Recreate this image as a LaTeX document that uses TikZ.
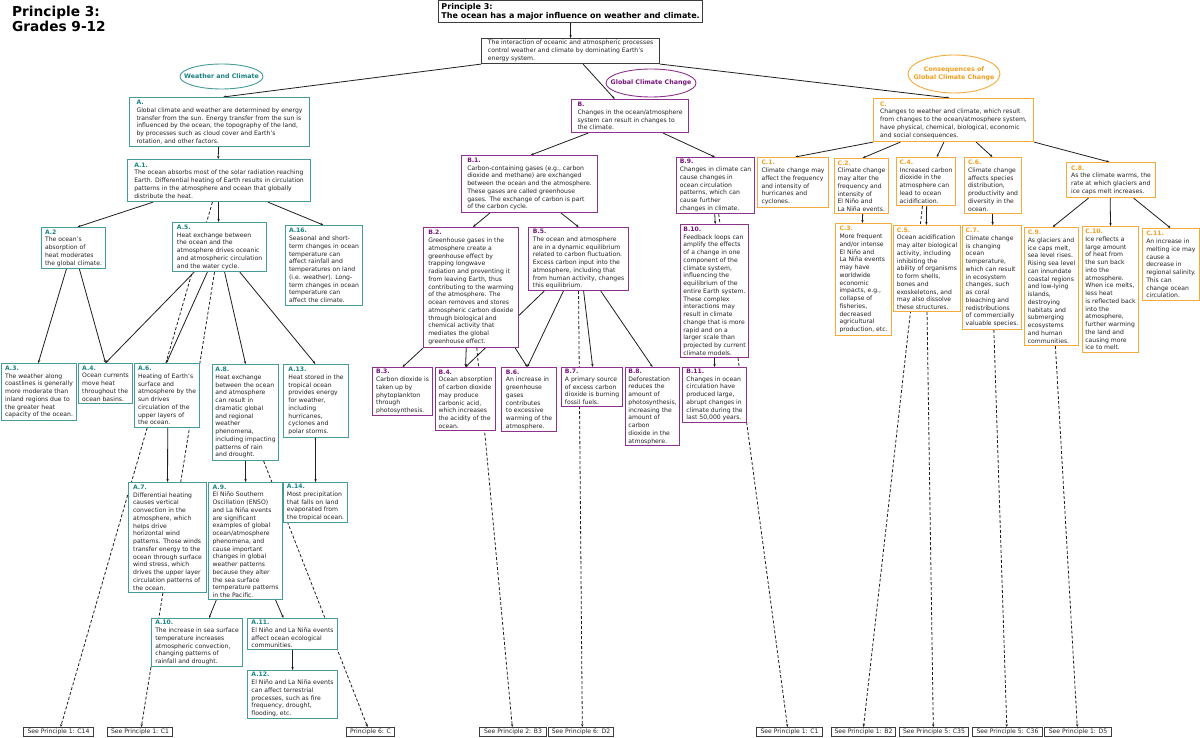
\documentclass[tikz,border=0pt]{standalone}
\usepackage{fontspec}
\setmainfont{DejaVu Sans}
\usetikzlibrary{arrows.meta,calc,shapes.geometric,backgrounds}
\definecolor{tealB}{RGB}{70,155,155}
\definecolor{tealL}{RGB}{25,130,130}
\definecolor{purB}{RGB}{140,50,140}
\definecolor{purL}{RGB}{120,20,125}
\definecolor{orB}{RGB}{245,170,60}
\definecolor{orL}{RGB}{242,158,30}
\definecolor{grayB}{RGB}{60,60,60}
\definecolor{txtc}{RGB}{35,35,35}
\definecolor{lineC}{RGB}{30,30,30}
\newcommand{\lT}[1]{\textcolor{tealL}{\bfseries #1}}
\newcommand{\lP}[1]{\textcolor{purL}{\bfseries #1}}
\newcommand{\lO}[1]{\textcolor{orL}{\bfseries #1}}
\newcommand{\linkS}[4]{\draw[arr] ($(#1.south west)!#2!(#1.south east)$) -- ($(#3.north west)!#4!(#3.north east)$);}
\newcommand{\linkD}[4]{\draw[darr] ($(#1.south west)!#2!(#1.south east)$) -- ($(#3.north west)!#4!(#3.north east)$);}
\tikzset{
 boxbase/.style={draw, fill=white, anchor=north west, align=left, inner xsep=1.4pt, inner ysep=1pt, font=\fontsize{6.1}{7.75}\selectfont, text=txtc, line width=1.1pt},
 tb/.style={boxbase, draw=tealB},
 pb/.style={boxbase, draw=purB},
 ob/.style={boxbase, draw=orB},
 gb/.style={boxbase, draw=grayB, line width=1.1pt},
 sb/.style={boxbase, draw=grayB, line width=1pt, inner ysep=0.6pt, inner xsep=1pt, minimum height=9pt, font=\fontsize{6.1}{7}\selectfont},
 arr/.style={draw=lineC, line width=0.8pt, -{Stealth[length=3pt,width=2.4pt]}},
 darr/.style={arr, dash pattern=on 3pt off 2pt},
 ellb/.style={ellipse, fill=white, line width=0.9pt, inner sep=0pt},
 etext/.style={inner sep=0pt, align=center, font=\fontsize{6.3}{7.7}\selectfont\bfseries},
}
\begin{document}
\begin{tikzpicture}[x=1pt,y=-1pt]
\useasboundingbox (0,0) rectangle (1200,738);

% title
\node[anchor=north west, inner sep=0pt, align=left, font=\fontsize{13.7}{15.3}\selectfont\bfseries, text=black] (title) at (12,6) {Principle 3:\\Grades 9-12};

\node[gb, minimum width=264pt, minimum height=22pt, font=\fontsize{8}{9}\selectfont\bfseries, text=black, line width=1.2pt] (P3) at (438,0) {Principle 3:\\The ocean has a major influence on weather and climate.};
\node[gb, minimum width=178pt, minimum height=25pt] (I) at (481,38) {The interaction of oceanic and atmospheric processes\\control weather and climate by dominating Earth's\\energy system.};

% ellipses
\node[ellb, draw=tealB, minimum width=83pt, minimum height=25pt] (WCe) at (221.5,76.5) {};
\node[etext, text=tealL] (WCt) at (WCe.center) {Weather and Climate};
\node[ellb, draw=purB, minimum width=90pt, minimum height=28pt] (GCe) at (651,83) {};
\node[etext, text=purL] (GCt) at (GCe.center) {Global Climate Change};
\node[ellb, draw=orB, minimum width=92pt, minimum height=38pt] (CGe) at (954,74) {};
\node[etext, text=orL] (CGt) at (CGe.center) {Consequences of\\Global Climate Change};

% ---------------- A ----------------
\node[tb, minimum width=180pt, minimum height=49pt] (A) at (129,97) {\lT{A.}\\Global climate and weather are determined by energy\\transfer from the sun. Energy transfer from the sun is\\influenced by the ocean, the topography of the land,\\by processes such as cloud cover and Earth's\\rotation, and other factors.};
\node[tb, minimum width=183pt, minimum height=42pt] (A1) at (127,159) {\lT{A.1.}\\The ocean absorbs most of the solar radiation reaching\\Earth. Differential heating of Earth results in circulation\\patterns in the atmosphere and ocean that globally\\distribute the heat.};
\node[tb, minimum width=64pt, minimum height=41pt] (A2) at (41,227) {\lT{A.2}\\The ocean's\\absorption of\\heat moderates\\the global climate.};
\node[tb, minimum width=94pt, minimum height=49pt] (A5) at (172,222) {\lT{A.5.}\\Heat exchange between\\the ocean and the\\atmosphere drives oceanic\\and atmospheric circulation\\and the water cycle.};
\node[tb, minimum width=77pt, minimum height=80pt] (A16) at (285,225) {\lT{A.16.}\\Seasonal and short-\\term changes in ocean\\temperature can\\affect rainfall and\\temperatures on land\\(i.e. weather). Long-\\term changes in ocean\\temperature can\\affect the climate.};
\node[tb, minimum width=75pt, minimum height=57pt] (A3) at (1,363) {\lT{A.3.}\\The weather along\\coastlines is generally\\more moderate than\\inland regions due to\\the greater heat\\capacity of the ocean.};
\node[tb, minimum width=54pt, minimum height=40pt] (A4) at (78,363) {\lT{A.4.}\\Ocean currents\\move heat\\throughout the\\ocean basins.};
\node[tb, minimum width=65pt, minimum height=64pt] (A6) at (134,363) {\lT{A.6.}\\Heating of Earth's\\surface and\\atmosphere by the\\sun drives\\circulation of the\\upper layers of\\the ocean.};
\node[tb, minimum width=66pt, minimum height=96pt] (A8) at (212,364) {\lT{A.8.}\\Heat exchange\\between the ocean\\and atmosphere\\can result in\\dramatic global\\and regional\\weather\\phenomena,\\including impacting\\patterns of rain\\and drought.};
\node[tb, minimum width=65pt, minimum height=73pt] (A13) at (283,364) {\lT{A.13.}\\Heat stored in the\\tropical ocean\\provides energy\\for weather,\\including\\hurricanes,\\cyclones and\\polar storms.};
\node[tb, minimum width=78pt, minimum height=110pt] (A7) at (128,482) {\lT{A.7.}\\Differential heating\\causes vertical\\convection in the\\atmosphere, which\\helps drive\\horizontal wind\\patterns. Those winds\\transfer energy to the\\ocean through surface\\wind stress, which\\drives the upper layer\\circulation patterns of\\the ocean.};
\node[tb, minimum width=74pt, minimum height=117pt] (A9) at (208,482) {\lT{A.9.}\\El Niño Southern\\Oscillation (ENSO)\\and La Niña events\\are significant\\examples of global\\ocean/atmosphere\\phenomena, and\\cause important\\changes in global\\weather patterns\\because they alter\\the sea surface\\temperature patterns\\in the Pacific.};
\node[tb, minimum width=64pt, minimum height=40pt] (A14) at (283,482) {\lT{A.14.}\\Most precipitation\\that falls on land\\evaporated from\\the tropical ocean.};
\node[tb, minimum width=91pt, minimum height=48pt] (A10) at (151,618) {\lT{A.10.}\\The increase in sea surface\\temperature increases\\atmospheric convection,\\changing patterns of\\rainfall and drought.};
\node[tb, minimum width=90pt, minimum height=31pt] (A11) at (247,618) {\lT{A.11.}\\El Niño and La Niña events\\affect ocean ecological\\communities.};
\node[tb, minimum width=90pt, minimum height=48pt] (A12) at (247,670) {\lT{A.12.}\\El Niño and La Niña events\\can affect terrestrial\\processes, such as fire\\frequency, drought,\\flooding, etc.};

% ---------------- B ----------------
\node[pb, minimum width=117pt, minimum height=33pt] (B) at (571,99) {\lP{B.}\\Changes in the ocean/atmosphere\\system can result in changes to\\the climate.};
\node[pb, minimum width=136pt, minimum height=57pt] (B1) at (461,155) {\lP{B.1.}\\Carbon-containing gases (e.g., carbon\\dioxide and methane) are exchanged\\between the ocean and the atmosphere.\\These gases are called greenhouse\\gases. The exchange of carbon is part\\of the carbon cycle.};
\node[pb, minimum width=78pt, minimum height=56pt] (B9) at (676,157) {\lP{B.9.}\\Changes in climate can\\cause changes in\\ocean circulation\\patterns, which can\\cause further\\changes in climate.};
\node[pb, minimum width=95pt, minimum height=120pt] (B2) at (423,227) {\lP{B.2.}\\Greenhouse gases in the\\atmosphere create a\\greenhouse effect by\\trapping longwave\\radiation and preventing it\\from leaving Earth, thus\\contributing to the warming\\of the atmosphere. The\\ocean removes and stores\\atmospheric carbon dioxide\\through biological and\\chemical activity that\\mediates the global\\greenhouse effect.};
\node[pb, minimum width=100pt, minimum height=63pt] (B5) at (528,227) {\lP{B.5.}\\The ocean and atmosphere\\are in a dynamic equilibrium\\related to carbon fluctuation.\\Excess carbon input into the\\atmosphere, including that\\from human activity, changes\\this equilibrium.};
\node[pb, minimum width=68pt, minimum height=133pt] (B10) at (680,224) {\lP{B.10.}\\Feedback loops can\\amplify the effects\\of a change in one\\component of the\\climate system,\\influencing the\\equilibrium of the\\entire Earth system.\\These complex\\interactions may\\result in climate\\change that is more\\rapid and on a\\larger scale than\\projected by current\\climate models.};
\node[pb, minimum width=64pt, minimum height=55pt] (B11) at (682,367) {\lP{B.11.}\\Changes in ocean\\circulation have\\produced large,\\abrupt changes in\\climate during the\\last 50,000 years.};
\node[pb, minimum width=60pt, minimum height=48pt] (B3) at (372,367) {\lP{B.3.}\\Carbon dioxide is\\taken up by\\phytoplankton\\through\\photosynthesis.};
\node[pb, minimum width=60pt, minimum height=63pt] (B4) at (435,367) {\lP{B.4.}\\Ocean absorption\\of carbon dioxide\\may produce\\carbonic acid,\\which increases\\the acidity of the\\ocean.};
\node[pb, minimum width=55pt, minimum height=64pt] (B6) at (501,367) {\lP{B.6.}\\An increase in\\greenhouse\\gases\\contributes\\to excessive\\warming of the\\atmosphere.};
\node[pb, minimum width=61pt, minimum height=39pt] (B7) at (561,367) {\lP{B.7.}\\A primary source\\of excess carbon\\dioxide is burning\\fossil fuels.};
\node[pb, minimum width=54pt, minimum height=78pt] (B8) at (625,367) {\lP{B.8.}\\Deforestation\\reduces the\\amount of\\photosynthesis,\\increasing the\\amount of\\carbon\\dioxide in the\\atmosphere.};

% ---------------- C ----------------
\node[ob, minimum width=160pt, minimum height=43pt] (C) at (873,98) {\lO{C.}\\Changes to weather and climate, which result\\from changes to the ocean/atmosphere system,\\have physical, chemical, biological, economic\\and social consequences.};
\node[ob, minimum width=71pt, minimum height=50pt] (C1) at (757,157) {\lO{C.1.}\\Climate change may\\affect the frequency\\and intensity of\\hurricanes and\\cyclones.};
\node[ob, minimum width=54pt, minimum height=55pt] (C2) at (834,158) {\lO{C.2.}\\Climate change\\may alter the\\frequency and\\intensity of\\El Niño and\\La Niña events.};
\node[ob, minimum width=59pt, minimum height=48pt] (C4) at (896,157) {\lO{C.4.}\\Increased carbon\\dioxide in the\\atmosphere can\\lead to ocean\\acidification.};
\node[ob, minimum width=57pt, minimum height=56pt] (C6) at (964,157) {\lO{C.6.}\\Climate change\\affects species\\distribution,\\productivity and\\diversity in the\\ocean.};
\node[ob, minimum width=89pt, minimum height=35pt] (C8) at (1066,162) {\lO{C.8.}\\As the climate warms, the\\rate at which glaciers and\\ice caps melt increases.};
\node[ob, minimum width=56pt, minimum height=112pt] (C3) at (835,223) {\lO{C.3.}\\More frequent\\and/or intense\\El Niño and\\La Niña events\\may have\\worldwide\\economic\\impacts, e.g.,\\collapse of\\fisheries,\\decreased\\agricultural\\production, etc.};
\node[ob, minimum width=67pt, minimum height=86pt] (C5) at (893,225) {\lO{C.5.}\\Ocean acidification\\may alter biological\\activity, including\\inhibiting the\\ability of organisms\\to form shells,\\bones and\\exoskeletons, and\\may also dissolve\\these structures.};
\node[ob, minimum width=59pt, minimum height=104pt] (C7) at (962,225) {\lO{C.7.}\\Climate change\\is changing\\ocean\\temperature,\\which can result\\in ecosystem\\changes, such\\as coral\\bleaching and\\redistributions\\of commercially\\valuable species.};
\node[ob, minimum width=54pt, minimum height=118pt] (C9) at (1024,227) {\lO{C.9.}\\As glaciers and\\ice caps melt,\\sea level rises.\\Rising sea level\\can innundate\\coastal regions\\and low-lying\\islands,\\destroying\\habitats and\\submerging\\ecosystems\\and human\\communities.};
\node[ob, minimum width=56pt, minimum height=126pt] (C10) at (1082,226) {\lO{C.10.}\\Ice reflects a\\large amount\\of heat from\\the sun back\\into the\\atmosphere.\\When ice melts,\\less heat\\is reflected back\\into the\\atmosphere,\\further warming\\the land and\\causing more\\ice to melt.};
\node[ob, minimum width=57pt, minimum height=72pt] (C11) at (1142,228) {\lO{C.11.}\\An increase in\\melting ice may\\cause a\\decrease in\\regional salinity.\\This can\\change ocean\\circulation.};

% ---------------- bottom references ----------------
\node[sb, minimum width=70pt] (S1) at (23,727) {See Principle 1: C14};
\node[sb, minimum width=65pt] (S2) at (107,727) {See Principle 1: C1};
\node[sb, minimum width=48pt] (S3) at (346,727) {Principle 6: C};
\node[sb, minimum width=67pt] (S4) at (479,727) {See Principle 2: B3};
\node[sb, minimum width=65pt] (S5) at (548,727) {See Principle 6: D2};
\node[sb, minimum width=66pt] (S6) at (756,727) {See Principle 1: C1};
\node[sb, minimum width=64pt] (S7) at (831,727) {See Principle 1: B2};
\node[sb, minimum width=69pt] (S8) at (899,727) {See Principle 5: C35};
\node[sb, minimum width=70pt] (S9) at (972,727) {See Principle 5: C36};
\node[sb, minimum width=67pt] (S10) at (1044,727) {See Principle 1: D5};

\begin{pgfonlayer}{background}
\fill[white] (0,0) rectangle (1200,738);
\linkS{P3}{0.5}{I}{0.5}
\linkS{I}{0}{A}{0.52}
\linkS{I}{0.57}{B}{0.37}
\linkS{I}{1}{C}{0.475}
% A
\linkS{A}{0.495}{A1}{0.495}
\linkS{A1}{0.142}{A2}{0.56}
\linkS{A1}{0.497}{A5}{0.49}
\linkS{A1}{0.765}{A16}{0.49}
\linkS{A2}{0.39}{A3}{0.49}
\linkS{A2}{0.59}{A4}{0.5}
\linkS{A5}{0.234}{A4}{0.5}
\linkS{A5}{0.372}{A6}{0.49}
\linkS{A5}{0.553}{A8}{0.5}
\linkS{A5}{0.713}{A13}{0.49}
\linkS{A6}{0.51}{A7}{0.5}
\linkS{A8}{0.5}{A9}{0.5}
\linkS{A13}{0.49}{A14}{0.5}
\linkS{A9}{0.11}{A10}{0.63}
\linkS{A9}{0.9}{A11}{0.4}
\linkS{A11}{0.5}{A12}{0.5}
\linkD{A1}{0.464}{S1}{0.53}
\linkD{A5}{0.447}{S2}{0.52}
\linkD{A8}{0.77}{S3}{0.44}
% B
\linkS{B}{0.145}{B1}{0.51}
\linkS{B}{0.78}{B9}{0.49}
\linkS{B1}{0.21}{B2}{0.52}
\linkS{B1}{0.73}{B5}{0.5}
\linkS{B9}{0.49}{B10}{0.51}
\linkS{B10}{0.5}{B11}{0.5}
\linkS{B2}{0}{B3}{0.5}
\linkS{B2}{0.45}{B4}{0.5}
\linkS{B2}{0.96}{B6}{0.47}
\linkS{B5}{0.16}{B4}{0.5}
\linkS{B5}{0.35}{B6}{0.47}
\linkS{B5}{0.55}{B7}{0.51}
\linkS{B5}{0.72}{B8}{0.5}
\linkD{B2}{0.56}{S4}{0.49}
\linkD{B5}{0.5}{S5}{0.52}
\linkD{B9}{0.54}{S6}{0.47}
% C
\linkS{C}{0}{C1}{0.53}
\linkS{C}{0.17}{C2}{0.52}
\linkS{C}{0.44}{C4}{0.68}
\linkS{C}{0.64}{C6}{0.49}
\linkS{C}{1}{C8}{0.48}
\linkS{C2}{0.52}{C3}{0.48}
\linkS{C4}{0.51}{C5}{0.49}
\linkS{C6}{0.49}{C7}{0.51}
\linkS{C8}{0.25}{C9}{0.52}
\linkS{C8}{0.49}{C10}{0.5}
\linkS{C8}{0.75}{C11}{0.49}
\linkD{C4}{0.44}{S7}{0.5}
\linkD{C5}{0.5}{S8}{0.49}
\linkD{C7}{0.53}{S9}{0.49}
\linkD{C9}{0.57}{S10}{0.49}
\end{pgfonlayer}
\end{tikzpicture}
\end{document}
